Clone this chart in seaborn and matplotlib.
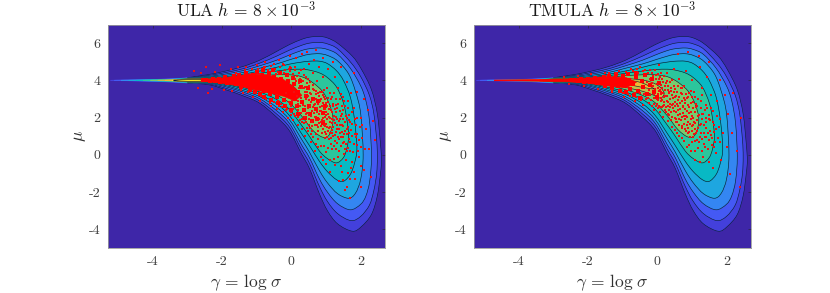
import numpy as np
import pandas as pd
import matplotlib
matplotlib.use('Agg')
import matplotlib.pyplot as plt
from matplotlib.path import Path
from matplotlib.patches import PathPatch
import seaborn as sns

# contour levels: (gamma, upper mu, lower mu)
level1 = [(-5.1,4.01,3.99),(-4,4.05,3.95),(-3,4.14,3.86),(-2.37,4.32,3.76),(-1.9,4.5,3.5),(-1.41,4.74,3.18),(-.92,5.08,2.78),(-.43,5.55,2.03),(-.06,5.92,1.3),(.29,6.2,.06),(.52,6.32,-.73),(.81,6.36,-2.1),(1.04,6.28,-3),(1.33,6,-3.7),(1.76,5.3,-4.1),(2.02,4.6,-3.85),(2.31,3.5,-3.2),(2.48,2.2,-2.2),(2.57,.6,-1),(2.6,-.3,-.3)]
level2 = [(-5,4.01,3.99),(-4,4.04,3.96),(-3,4.13,3.87),(-2.37,4.27,3.8),(-1.9,4.42,3.58),(-1.41,4.62,3.28),(-.92,4.92,2.9),(-.43,5.3,2.2),(-.06,5.62,1.5),(.29,5.88,.3),(.52,6,-.45),(.81,6.04,-1.7),(1.04,5.96,-2.5),(1.33,5.7,-3.15),(1.72,4.95,-3.53),(2,4.2,-3.3),(2.25,3.2,-2.7),(2.38,2.2,-1.9),(2.46,.8,-1),(2.48,-.1,-.1)]
level3 = [(-4.8,4.01,3.99),(-3.8,4.04,3.96),(-3,4.12,3.88),(-2.37,4.22,3.84),(-1.9,4.34,3.66),(-1.41,4.52,3.38),(-.92,4.78,3.02),(-.43,5.08,2.38),(-.06,5.36,1.7),(.29,5.6,.55),(.52,5.7,-.15),(.81,5.74,-1.3),(1.04,5.66,-2),(1.33,5.4,-2.62),(1.7,4.65,-2.95),(2,3.7,-2.65),(2.15,2.9,-2.2),(2.26,1.7,-1.4),(2.31,-.1,-.1)]
level4 = [(-4.6,4.01,3.99),(-3.7,4.04,3.96),(-3,4.11,3.89),(-2.37,4.18,3.86),(-1.9,4.27,3.72),(-1.41,4.42,3.46),(-.92,4.65,3.13),(-.43,4.88,2.56),(-.06,5.1,1.9),(.29,5.3,.85),(.52,5.4,.15),(.81,5.43,-.85),(1.04,5.34,-1.5),(1.33,5.05,-2.08),(1.65,4.35,-2.33),(1.85,3.4,-2.05),(2,2.2,-1.3),(2.07,0,0)]
level5 = [(-4.4,4.01,3.99),(-3.6,4.04,3.96),(-3,4.1,3.9),(-2.37,4.15,3.88),(-1.9,4.2,3.78),(-1.41,4.33,3.55),(-.92,4.5,3.25),(-.43,4.7,2.75),(-.06,4.87,2.12),(.29,4.98,1.15),(.52,5.03,.5),(.81,5.03,-.35),(1.04,4.9,-.9),(1.3,4.52,-1.33),(1.5,4,-1.42),(1.7,3.1,-1.05),(1.82,1.9,-.45),(1.89,.35,.35)]
level6 = [(-4.2,4.01,3.99),(-3.5,4.03,3.97),(-3,4.09,3.91),(-2.37,4.13,3.9),(-1.9,4.16,3.82),(-1.41,4.25,3.62),(-.92,4.38,3.38),(-.43,4.5,2.98),(-.06,4.58,2.45),(.29,4.6,1.6),(.52,4.55,1),(.81,4.4,.2),(1.04,4.15,-.2),(1.3,3.65,-.43),(1.5,2.8,-.15),(1.6,1.9,.35),(1.65,1,1)]
level7 = [(-4,4.01,3.99),(-3.4,4.03,3.97),(-3,4.08,3.92),(-2.37,4.11,3.92),(-1.9,4.13,3.87),(-1.41,4.17,3.72),(-.92,4.25,3.5),(-.43,4.3,3.2),(-.06,4.3,2.8),(.29,4.2,2.1),(.6,3.9,1.35),(.9,3.4,.95),(1.1,2.7,1.1),(1.2,1.9,1.9)]
level8 = [(-3.8,4.01,3.99),(-3.3,4.03,3.97),(-3,4.07,3.93),(-2.37,4.09,3.94),(-1.9,4.1,3.91),(-1.41,4.1,3.82),(-.92,4.1,3.62),(-.43,4.02,3.42),(-.1,3.85,3.2),(.1,3.6,3.05),(.2,3.3,3.3)]
level9 = [(-3.6,4.01,3.99),(-3.2,4.03,3.97),(-3,4.06,3.94),(-2.37,4.07,3.95),(-1.9,4.06,3.95),(-1.41,4.03,3.9),(-.92,4,3.8),(-.5,3.9,3.65),(-.1,3.55,3.55)]
level10 = [(-3.4,4.01,3.99),(-3,4.05,3.95),(-2.4,4.05,3.96),(-1.9,4.03,3.97),(-1.5,4,4)]
levels = [level1, level2, level3, level4, level5, level6, level7, level8, level9, level10]
level_colors = ['#4340DC', '#4459F4', '#3486F2', '#1EA6E0', '#08B9C4', '#2CC69C', '#78CB6E', '#C4BC48', '#F2B636', '#F8E624']
background = '#3E26A8'

# solid red part of each sample cloud: (gamma, upper mu, lower mu)
ula_band = [(-2.6,4.04,3.97),(-2,4.12,3.85),(-1.5,4.25,3.7),(-1.19,4.35,3.55),(-.7,4.3,3.35),(-.23,4.05,3.15),(.1,3.6,2.9),(.3,3.2,3.2)]
tmula_band = [(-4.7,4.02,3.98),(-3.5,4.04,3.96),(-2.6,4.07,3.93),(-2,4.12,3.85),(-1.5,4.2,3.72),(-.9,4.15,3.6),(-.6,3.9,3.9)]

# heavier red clumps around the band
ula_core = [(-2.55,4),(-2.45,4.03),(-2.35,3.97),(-2.25,4.08),(-2.2,3.95),(-2.1,4.1),(-2.05,3.9),(-1.95,4.02),(-1.9,4.18),(-1.85,3.85),(-1.75,4.1),(-1.7,3.92),(-1.65,4.25),(-1.6,3.78),
(-1.55,4.02),(-1.5,4.3),(-1.45,3.65),(-1.4,3.9),(-1.35,4.15),(-1.3,4.38),(-1.25,3.72),(-1.2,3.5),(-1.2,4.02),(-1.12,4.3),(-1.1,3.82),(-1.05,3.4),(-1,4.45),(-1,4.1),(-.98,3.6),
(-.9,3.88),(-.9,3.25),(-.85,4.28),(-.82,4.55),(-.8,3.45),(-.78,3.1),(-.7,4.05),(-.7,3.7),(-.65,4.4),(-.62,3.28),(-.6,2.95),(-.55,3.9),(-.52,4.55),(-.5,4.2),(-.5,3.52),
(-.42,3.1),(-.4,2.8),(-.38,3.75),(-.33,4.38),(-.3,4.05),(-.28,3.35),(-.2,2.95),(-.18,2.62),(-.17,3.6),(-.12,4.3),(-.1,3.95),(-.08,3.2),(-.02,2.78),(0,2.4),(.02,3.5),(.06,4.15),(.08,3.8),(.1,3.02),
(.15,2.6),(.18,2.2),(.2,3.35),(.25,3.95),(.28,3.65),(.3,2.85),(.35,2.4),(.4,2),(.42,3.15),(.48,3.6),(.5,2.65),(.55,2.2),(.6,1.8),(.62,3),(.7,2.45),(.75,1.95),(.78,2.9),(.9,2.25),(.92,1.7),(.98,2.6)]
tmula_core = [(-2.5,4),(-2.4,4.03),(-2.3,3.97),(-2.2,4.05),(-2.1,3.93),(-2,4.08),(-1.95,3.92),(-1.85,4.02),(-1.8,4.15),(-1.75,3.85),(-1.65,4.08),(-1.6,3.88),(-1.55,4.2),(-1.5,3.72),
(-1.45,4),(-1.38,4.25),(-1.32,3.6),(-1.3,3.88),(-1.22,4.12),(-1.18,4.32),(-1.12,3.68),(-1.08,3.45),(-1.05,3.95),(-.98,4.22),(-.95,3.75),(-.9,3.35),(-.85,4.36),(-.82,4.02),(-.78,3.55),
(-.7,3.82),(-.68,3.2),(-.62,4.2),(-.6,4.42),(-.55,3.42),(-.5,3.05),(-.45,3.98),(-.42,3.65),(-.35,4.3),(-.3,3.25),(-.2,3.75),(-.15,4.05),(-.1,3.4),(0,3.1),(.05,3.85)]

# single red samples, ULA panel
ula_points = [(-2.8,4.5),(-2.7,3.6),(-2.6,4.4),(-2.45,4.72),(-2.4,3.3),(-2.3,3.55),(-2.2,4.45),(-2.05,4.85),(-1.95,3.5),(-1.75,4.6),(-1.7,3.45),(-1.55,4.7),(-1.4,3.3),(-1.3,4.72),(-1.1,3.1),(-1,4.85),(-.9,2.9),(-.75,5),(-.6,2.65),(-.5,4.9),(-.42,2.45),(-.35,5.1),(-.25,2.3),(-.2,4.8),(-.1,2),(-.05,5.3),(-.03,4.7),(.05,1.85),(.1,4.55),(.12,5.2),(.18,1.6),(.22,4.4),(.3,5.4),(.32,1.4),(.35,4.6),
(.38,3.4),(.4,1),(.42,4.2),(.46,5.55),(.5,1.6),(.52,4.9),(.55,3.9),(.58,.7),(.6,1.3),(.62,4.4),(.65,5.1),(.66,3.5),(.68,.2),(.7,1.1),(.72,5.65),(.74,3.95),(.76,.85),(.78,1.5),(.8,4.7),(.82,3.4),(.84,-.1),(.86,.5),(.88,1.2),(.9,4.2),(.92,5.2),(.94,3.1),(.96,2.05),(.98,.9),(1,-.5),(1,.15),(1.02,1.5),(1.04,3.6),(1.06,4.6),(1.08,2.45),(1.1,1.75),(1.12,-.9),(1.14,.6),(1.16,1.15),
(1.18,3.1),(1.2,5),(1.22,-.2),(1.24,2.1),(1.26,4.2),(1.28,2.7),(1.3,.3),(1.32,1.6),(1.34,3.6),(1.36,-1.4),(1.38,.85),(1.4,2.35),(1.42,-.6),(1.44,4.7),(1.46,1.25),(1.48,3.1),(1.5,1.9),(1.52,.05),(1.54,-1.9),(1.56,2.6),(1.58,.6),(1.6,3.9),(1.62,-.95),(1.64,1.5),(1.66,2.15),(1.68,-2.3),(1.7,.2),(1.72,3.3),(1.74,1),(1.76,-.4),(1.8,2.5),(1.82,4.4),(1.84,-1.3),(1.86,1.6),(1.88,.55),(1.9,3.4),(1.95,-.1),(2,2),(2.02,-1.7),(2.05,.9),(2.08,3),(2.1,-.8),(2.15,1.4),(2.2,2.4),(2.25,.3),(2.3,-1.2),(2.35,1.8),(2.4,.8),
(-.15,3.3),(0,4.65),(.1,2.1),(.2,2.9),(.3,1.75),(.35,3.6),(.4,2.6),(.45,3.85),(.5,2.95),(.55,1.45),(.6,2.35),(.65,2.7),(.7,2.05),(.72,3.25),(.8,1.7),(.82,2.55),(.85,3),(.9,1.4),(.92,2.8),(.95,3.5),(1,2.3),(1,1.1),(1.05,2.85),(1.1,3.3),(1.12,2),(1.18,1.35),(1.2,2.6),(1.25,.75),(1.3,3),(1.32,1.95),(1.4,1.6),(1.42,.95),(1.45,2.65),(1.5,.65),(1.55,1.3),(1.6,2),(1.65,.85),(1.75,1.65),(1.9,1.1),(2,.4)]
ula_points2 = [(-1.6,4.42),(-1.45,3.5),(-1.35,4.55),(-1.25,3.38),(-1.15,4.6),(-1.05,3.3),(-.95,4.62),(-.88,3.15),(-.8,4.7),(-.72,3.02),(-.66,4.58),(-.6,4.78),(-.56,2.98),(-.5,2.82),(-.46,4.62),(-.4,2.9),(-.38,4.45),(-.33,4.72),(-.3,2.75),(-.27,2.58),(-.22,4.42),(-.18,4.58),(-.15,2.7),(-.12,2.48),(-.1,4.3),(-.06,2.85),(-.04,4.48),(-.02,2.32),(0,2.62),(.02,4.12),(.04,4.32),(.06,2.45),(.08,2.18),(.1,4.08),(.12,2.7),(.14,3.95),(.16,4.25),(.18,2.4),(.2,2.05),(.22,3.85),(.24,2.6),(.26,4.1),(.28,2.25),(.3,3.6),(.32,1.95),(.34,3.95),(.36,2.4),(.38,2.05),(.4,3.65),(.42,1.75),(.44,3.4),(.46,2.25),(.48,3.15),(.5,1.95),(.52,3.7),(.54,2.6),(.56,2.1),(.58,3.25),(.6,1.75),(.62,3.55),(.64,2.95),(.66,2.25),(.68,1.6),(.7,3),(.72,1.85),(.74,2.5),(.76,3.3),(.78,1.3),(.8,2.2),(.82,2.9),(.84,1.55),(.86,2.35),(.88,1.85),(.9,2.6),(.92,3.2),(.94,1.6),(.96,2.45),(.98,1.25),(1,2.8),(1.02,1.9),(1.04,.95),(1.06,2.2),(1.08,1.45),(1.1,2.6),(1.12,1.15),(1.14,3),(1.16,1.7),(1.18,2.3),(1.2,1),(1.22,1.85),(1.24,.45),(1.26,2.45),(1.28,1.25),(1.3,2.05),(1.32,.65),(1.34,2.75),(1.36,1.4),(1.38,.2),(1.4,1.9),(1.42,3.25),(1.44,.45),(1.46,2.2),(1.48,.95),(1.5,1.55),(1.52,2.9),(1.54,.3),(1.56,1.75),(1.58,-.3),(1.6,1.1),(1.62,2.5),(1.64,.35),(1.66,1.2),(1.7,1.75),(1.72,-.7),(1.76,2.3),(1.8,.6),(1.84,1.1),(1.9,2),(1.95,.8),(2,-.6),(2.05,1.6),(2.12,.3),(1.05,.35),(1.1,-.25),(.95,.45),(.9,-.3),(.78,.4),(.7,.6),(.62,.95),(.56,1.1),(.48,1.3),(.44,1.45),(.36,1.7),(.26,1.85),(.96,1.55),(1.08,.85),(1.16,.3),(1.26,-.55),(1.34,-.1),(1.45,-.9),(1.5,-1.35),(1.6,-1.7),(1.7,-1.3),(1.8,-.9)]
ula_points3 = [(-.9,4.35),(-.75,4.72),(-.62,2.8),(-.45,4.32),(-.35,2.62),(-.25,4.9),(-.16,2.42),(-.08,4.62),(-.02,2.15),(.03,2.9),(.07,3.35),(.11,4.72),(.15,3.15),(.19,2.75),(.23,3.6),(.27,4.55),(.29,3.05),(.33,2.7),(.37,4.28),(.39,3.2),(.41,2.2),(.43,3),(.47,2.5),(.49,4.05),(.51,2.2),(.53,3.3),(.57,2.85),(.59,1.55),(.61,2.55),(.63,3.75),(.67,2.05),(.69,2.75),(.71,3.45),(.73,1.6),(.75,2.3),(.77,2.75),(.79,1.95),(.81,3.15),(.83,2.35),(.85,1.75),(.87,2.65),(.89,3.35),(.91,2),(.93,2.45),(.95,1.8),(.97,3),(.99,2.15),(1.01,1.65),(1.03,2.6),(1.05,1.3),(1.07,3.05),(1.09,2.05),(1.11,1.5),(1.13,2.4),(1.15,.9),(1.17,1.95),(1.19,2.75),(1.21,1.5),(1.23,3.3),(1.25,1.7),(1.27,1.05),(1.29,2.3),(1.31,1.4),(1.33,2.5),(1.35,.95),(1.37,1.8),(1.39,3),(1.41,1.2),(1.43,2.1),(1.47,1.6),(1.49,2.4),(1.51,1.1),(1.53,.7),(1.57,2.1),(1.59,1.4),(1.61,.2),(1.63,2.9),(1.67,1.85),(1.69,.7),(1.73,1.35),(1.78,.15),(1.83,1.9),(1.87,.95),(1.92,.2),(1.97,1.5)]

# single red samples, TMULA panel
tmula_points = [(-2.7,4.2),(-2.55,3.8),(-2.3,4.25),(-2.1,3.7),(-1.9,4.35),(-1.7,3.55),(-1.5,4.4),(-1.3,3.35),(-1.1,4.5),(-.95,3.1),(-.75,4.6),(-.65,2.9),(-.5,4.7),(-.4,2.7),(-.3,3.9),(-.25,2.8),(-.2,4.55),(-.1,2.4),(-.08,3.05),(-.05,4.3),(0,2.75),(.02,3.6),(.05,4.8),(.08,2.3),(.1,2.9),(.12,3.35),(.15,4.1),(.18,2.05),(.2,3.1),(.22,3.7),(.25,2.55),(.28,4.4),(.3,1.8),(.32,2.85),(.35,3.35),(.38,3.9),(.4,2.3),(.42,1.5),(.45,3.05),(.48,4.6),(.5,2.6),(.52,3.55),(.55,1.9),(.58,1.2),(.6,2.95),(.62,4.1),(.65,2.2),(.68,3.3),(.7,1.55),(.72,.9),(.75,2.65),(.78,3.7),(.8,1.9),(.82,4.5),(.85,2.35),(.88,1.15),(.9,3.1),(.92,.55),(.95,1.65),(.98,2.8),(1,4),(1,2.1),(1.02,.95),(1.05,3.4),(1.08,1.4),(1.1,.2),(1.12,2.55),(1.15,1.85),(1.18,3),(1.2,.7),(1.22,4.7),(1.25,1.2),(1.28,2.2),(1.3,3.6),(1.32,-.1),(1.35,1.6),(1.38,.4),(1.4,2.7),(1.42,.95),(1.45,4.2),(1.48,1.95),(1.5,-.4),(1.52,1.3),(1.55,3.2),(1.58,.55),(1.6,2.35),(1.62,-.7),(1.65,1.6),(1.7,.1),(1.72,2.9),(1.75,.9),(1.8,4),(1.82,1.9),(1.85,-.3),(1.9,1.2),(1.95,3.2),(2,.4),(2.05,2.2),(2.1,-1),(2.15,1.2),(2.2,3.3),(2.3,.2),(2.4,-1.7),(2.42,2),(.6,5.4),(.9,5.5),(1.2,5.3),(1.5,5),
(-.12,3.7),(.02,2.5),(.12,4.4),(.2,2.7),(.3,3.5),(.35,2.15),(.42,4),(.45,2.75),(.55,3.15),(.6,2.4),(.7,3.6),(.72,2.05),(.8,2.8),(.85,1.6),(.92,3.3),(1,1.3),(1.02,2.5),(1.1,3.1),(1.15,.8),(1.2,2.15),(1.25,2.9),(1.35,1.2),(1.4,2),(1.5,.8),(1.55,2.5),(1.7,1.4)]
tmula_points2 = [(-1.4,4.4),(-1.3,3.5),(-1.2,4.42),(-1.1,3.4),(-1,3.3),(-.9,4.45),(-.85,3.25),(-.8,3.15),(-.7,4.5),(-.65,3.3),(-.6,3.1),(-.55,4.4),(-.5,3.3),(-.45,3.05),(-.42,4.5),(-.38,3.25),(-.35,4.25),(-.32,3),(-.28,4.4),(-.25,3.5),(-.22,3.2),(-.2,4.1),(-.18,2.95),(-.15,3.85),(-.12,4.25),(-.1,3.25),(-.08,2.75),(-.06,3.55),(-.04,4.1),(-.02,3),(0,3.8),(.02,3.25),(.04,4.05),(.06,2.65),(.08,3.5),(.1,3.75),(.12,3.05),(.14,2.55),(.16,3.9),(.18,3.3),(.2,2.85),(.22,3.5),(.24,2.3),(.26,3.85),(.28,3.15),(.3,2.6),(.32,3.7),(.34,2.4),(.36,3),(.38,2.75),(.4,3.45),(.42,2.05),(.44,3.2),(.46,2.5),(.48,3.7),(.5,2),(.52,2.85),(.54,2.3),(.56,3.4),(.58,1.75),(.6,2.65),(.62,3.1),(.64,1.95),(.66,2.45),(.68,3.6),(.7,2.9),(.72,1.45),(.74,2.25),(.76,3.05),(.78,1.65),(.8,2.45),(.82,3.25),(.84,1.3),(.86,2.05),(.88,2.7),(.9,1.45),(.92,2.25),(.94,.95),(.96,1.9),(.98,3.45),(1,.7),(1.02,1.6),(1.04,2.85),(1.06,1.1),(1.08,2.3),(1.1,1.7),(1.14,1.3),(1.16,2.6),(1.18,.35),(1.22,1.6),(1.26,2.5),(1.28,.85),(1.3,1.9),(1.34,.6),(1.38,2.4),(1.42,1.45),(1.46,.3),(1.5,2.15),(1.54,1.05),(1.6,1.75),(1.65,.4),(1.72,2.1),(1.8,.7),(.5,1.35),(.62,1),(.76,.75),(.85,.4),(.96,.2),(1.08,-.3),(1.22,-.4),(1.3,.2)]
tmula_points3 = [(-.58,4.6),(-.48,2.95),(-.36,4.55),(-.26,3.05),(-.16,4.4),(-.14,2.65),(-.07,4.55),(-.03,2.6),(.01,4.35),(.03,2.95),(.05,3.45),(.07,4.2),(.09,2.55),(.11,3.25),(.13,2.95),(.15,3.6),(.17,2.65),(.19,4.25),(.21,2.4),(.23,3.15),(.27,2.9),(.29,3.95),(.31,2.2),(.33,3.3),(.37,2.55),(.39,3.6),(.41,1.85),(.43,2.7),(.47,3.4),(.49,2.35),(.51,3.1),(.53,1.75),(.57,2.75),(.59,3.7),(.61,2.15),(.63,1.6),(.67,2.8),(.69,1.85),(.71,3.25),(.73,2.55),(.77,2.1),(.79,2.95),(.81,1.4),(.83,2.1),(.87,3.05),(.89,1.75),(.91,2.55),(.93,1.25),(.97,2.3),(.99,1.55),(1.01,3.1),(1.03,2),(1.07,1.75),(1.09,.75),(1.11,2.75),(1.13,1.2),(1.17,2.1),(1.19,1.45),(1.23,.95),(1.27,1.65),(1.29,3.2),(1.33,2.2),(1.37,.95),(1.41,1.75),(1.44,2.5),(1.47,1.2),(1.53,1.85),(1.57,.9),(1.63,1.25),(1.68,.7),(1.78,1.5)]

gamma_ticks = [-4, -2, 0, 2]
mu_ticks = [-4, -2, 0, 2, 4, 6]


def smooth_path(xs, ys, closed):
    # bezier curve through the read points
    p = np.column_stack([xs, ys])
    if closed:
        prev, nxt = np.roll(p, 1, axis=0), np.roll(p, -1, axis=0)
        pts = np.vstack([p, p[:1]])
        prev, nxt = np.vstack([prev, prev[:1]]), np.vstack([nxt, nxt[:1]])
    else:
        pts = p
        prev = np.vstack([p[:1], p[:-1]])
        nxt = np.vstack([p[1:], p[-1:]])
    verts = [pts[0]]
    codes = [Path.MOVETO]
    for i in range(len(pts) - 1):
        verts += [pts[i] + (nxt[i] - prev[i]) / 6, pts[i + 1] - (nxt[i + 1] - prev[i + 1]) / 6, pts[i + 1]]
        codes += [Path.CURVE4] * 3
    return Path(verts, codes)


def draw_panel(ax, title, band, core, point_sets):
    ax.set_facecolor(background)
    for level, color in zip(levels, level_colors):
        t = np.array(level)
        xs = np.concatenate([t[:, 0], t[-2::-1, 0]])
        ys = np.concatenate([t[:, 1], t[-2::-1, 2]])
        ax.add_patch(PathPatch(smooth_path(xs, ys, True), facecolor=color, edgecolor=color, linewidth=0.5))
        keep = xs > -3.5
        ax.add_patch(PathPatch(smooth_path(xs[keep], ys[keep], False), fill=False, edgecolor='#0b1a33', linewidth=0.45))
    b = np.array(band)
    ax.fill(np.concatenate([b[:, 0], b[-2::-1, 0]]), np.concatenate([b[:, 1], b[-2::-1, 2]]),
            facecolor='#ff0000', edgecolor='#ff0000', linewidth=0.5, zorder=4)
    df = pd.DataFrame(core, columns=['gamma', 'mu'])
    sns.scatterplot(data=df, x='gamma', y='mu', ax=ax, color='#ff0000', s=7, marker='s',
                    linewidth=0, legend=False, zorder=5)
    for pts in point_sets:
        df = pd.DataFrame(pts, columns=['gamma', 'mu'])
        sns.scatterplot(data=df, x='gamma', y='mu', ax=ax, color='#f01010', marker='s',
                        s=3, linewidth=0, legend=False, zorder=5)
    ax.set_xlim(-5.3, 2.7)
    ax.set_ylim(-5, 7)
    ax.set_xticks(gamma_ticks)
    ax.set_yticks(mu_ticks)
    ax.set_xticklabels([str(v) for v in gamma_ticks], family='cmr10', fontsize=10, color='#404040')
    ax.set_yticklabels([str(v) for v in mu_ticks], family='cmr10', fontsize=10, color='#404040')
    ax.tick_params(direction='in', length=2.2, width=0.4, color='#262626', top=True, right=True)
    ax.tick_params(axis='x', pad=6)
    ax.tick_params(axis='y', pad=5)
    for s in ax.spines.values():
        s.set_linewidth(0.6)
        s.set_color('#9a9a9a')
    ax.set_title(title, fontsize=12.5, pad=5, color='#1a1a1a')
    ax.set_xlabel(r'$\gamma\, =\, \log\,\sigma$', fontsize=12.5, labelpad=3, color='#303030')
    ax.set_ylabel(r'$\mu$', fontsize=12.5, labelpad=1, color='#303030')


sns.set_style('white')
plt.rcParams['mathtext.fontset'] = 'cm'
plt.rcParams['axes.unicode_minus'] = False
plt.rcParams['axes.formatter.use_mathtext'] = True

fig = plt.figure(figsize=(8.3, 2.93), dpi=100)
ax1 = fig.add_axes([107.6 / 830, 45 / 293, 277.4 / 830, 223.5 / 293])
ax2 = fig.add_axes([473.6 / 830, 45 / 293, 277.2 / 830, 223.5 / 293])

draw_panel(ax1, r'$\mathrm{ULA}\ h\, =\, 8 \times 10^{-3}$', ula_band, ula_core, [ula_points, ula_points2, ula_points3])
draw_panel(ax2, r'$\mathrm{TMULA}\ h\, =\, 8 \times 10^{-3}$', tmula_band, tmula_core, [tmula_points, tmula_points2, tmula_points3])

fig.savefig('out.png', dpi=100)
